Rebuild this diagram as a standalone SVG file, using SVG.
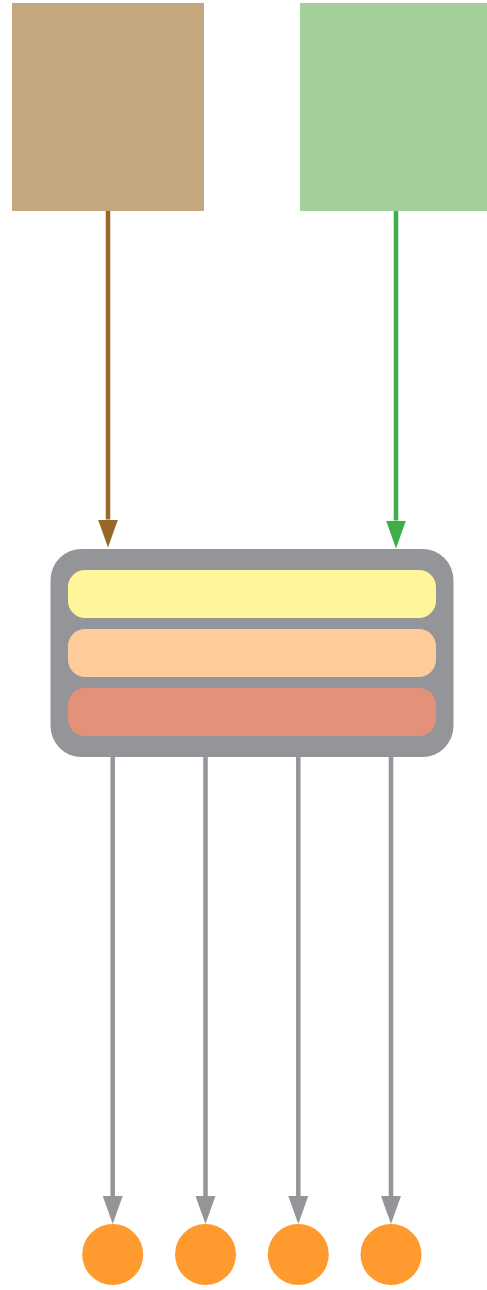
<svg xmlns="http://www.w3.org/2000/svg" width="487" height="1290" viewBox="0 0 487 1290">
  <style>
    .conn { fill: none; stroke-width: 4.5; }
    .brown { stroke: #96692A; }
    .green { stroke: #3FAE49; }
    .gray { stroke: #939598; }
    .dot { fill: #FF9A2E; }
  </style>
  <defs>
    <marker id="arrBrown" markerUnits="userSpaceOnUse" markerWidth="28" markerHeight="20" refX="0" refY="10" orient="auto">
      <path d="M0,0 L28,10 L0,20 z" fill="#96692A"/>
    </marker>
    <marker id="arrGreen" markerUnits="userSpaceOnUse" markerWidth="28" markerHeight="20" refX="0" refY="10" orient="auto">
      <path d="M0,0 L28,10 L0,20 z" fill="#3FAE49"/>
    </marker>
    <marker id="arrGray" markerUnits="userSpaceOnUse" markerWidth="28" markerHeight="20" refX="0" refY="10" orient="auto">
      <path d="M0,0 L28,10 L0,20 z" fill="#939598"/>
    </marker>
  </defs>
  <rect width="487" height="1290" fill="#FFFFFF"/>

  <g id="source-brown">
    <rect x="12" y="3" width="192" height="208" fill="#C4A77F"/>
  </g>
  <g id="source-green">
    <rect x="300" y="3" width="187" height="208" fill="#A3CF9A"/>
  </g>

  <g id="stack">
    <rect x="50.5" y="549" width="403" height="208" rx="31" ry="31" fill="#939598"/>
    <rect x="68" y="570" width="368" height="48" rx="17" ry="17" fill="#FFF59A"/>
    <rect x="68" y="629" width="368" height="48" rx="17" ry="17" fill="#FECB9A"/>
    <rect x="68" y="688" width="368" height="48" rx="17" ry="17" fill="#E4917A"/>
  </g>

  <g id="connectors">
    <line class="conn brown" x1="108" y1="211" x2="108" y2="519.5" marker-end="url(#arrBrown)"/>
    <line class="conn green" x1="396" y1="211" x2="396" y2="520.5" marker-end="url(#arrGreen)"/>
    <line class="conn gray" x1="112.7" y1="757" x2="112.7" y2="1196" marker-end="url(#arrGray)"/>
    <line class="conn gray" x1="205.5" y1="757" x2="205.5" y2="1196" marker-end="url(#arrGray)"/>
    <line class="conn gray" x1="298.3" y1="757" x2="298.3" y2="1196" marker-end="url(#arrGray)"/>
    <line class="conn gray" x1="391" y1="757" x2="391" y2="1196" marker-end="url(#arrGray)"/>
  </g>

  <g id="out-1"><circle class="dot" cx="112.7" cy="1254.5" r="30.5"/></g>
  <g id="out-2"><circle class="dot" cx="205.5" cy="1254.5" r="30.5"/></g>
  <g id="out-3"><circle class="dot" cx="298.3" cy="1254.5" r="30.5"/></g>
  <g id="out-4"><circle class="dot" cx="391" cy="1254.5" r="30.5"/></g>
</svg>
